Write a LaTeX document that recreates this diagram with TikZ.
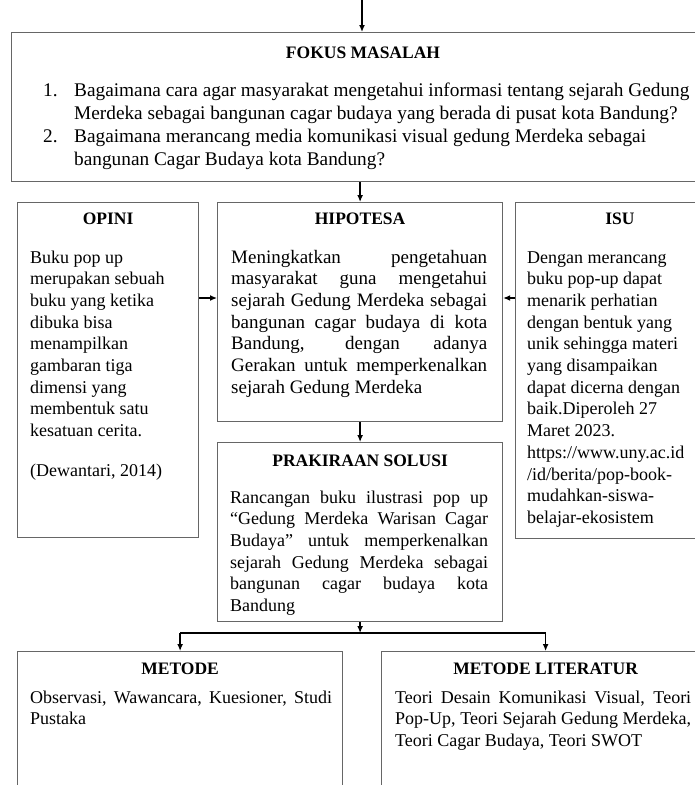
\documentclass[tikz,border=0pt]{standalone}
\usepackage{fontspec}
\setmainfont{Liberation Serif}
\usetikzlibrary{arrows.meta}
\newcommand{\jl}[1]{{\spaceskip=0pt\xspaceskip=0pt\makebox[\hsize][s]{#1}}}

\begin{document}
\begin{tikzpicture}[x=1pt,y=-1pt,
  box/.style={draw=black!60, line width=1.2pt, anchor=north west, inner sep=0pt},
  ttl/.style={anchor=base, font=\bfseries\fontsize{17.5}{21}\selectfont},
  txt/.style={anchor=base west, inner sep=0pt, align=justify, font=\fontsize{18}{21.7}\selectfont},
  qtxt/.style={txt, font=\fontsize{19.3}{23.3}\selectfont},
  arr/.style={-{Latex[length=7pt,width=6pt]}, line width=1.3pt}]
\useasboundingbox (0,0) rectangle (695,785);
\clip (0,0) rectangle (695,785);

% boxes
\node[box, minimum width=704pt, minimum height=149pt] (fokus) at (11,32) {};
\node[box, minimum width=181pt, minimum height=335pt] (opini) at (17,202) {};
\node[box, minimum width=285pt, minimum height=219pt] (hipo) at (217,202) {};
\node[box, minimum width=210pt, minimum height=336pt] (isu) at (515,202) {};
\node[box, minimum width=285pt, minimum height=179pt] (prak) at (217,442) {};
\node[box, minimum width=325pt, minimum height=200pt] (metode) at (17,651) {};
\node[box, minimum width=328pt, minimum height=200pt] (lit) at (381,651) {};

% fokus masalah
\node[ttl] (fokusT) at (363,58) {FOKUS MASALAH};
\foreach \n/\y/\q in {1/96/{Bagaimana cara agar masyarakat mengetahui informasi tentang sejarah Gedung\\
    Merdeka sebagai bangunan cagar budaya yang berada di pusat kota Bandung?},
  2/142/{Bagaimana merancang media komunikasi visual gedung Merdeka sebagai\\
    bangunan Cagar Budaya kota Bandung?}} {
  \node[qtxt] (num\n) at (43,\y) {\n.};
  \node[qtxt, text width=630pt] (q\n) at (74,\y) {\q};
}

% opini
\node[ttl] (opiniT) at (opini.north |- 0,224) {OPINI};
\node[txt, text width=165pt] (opiniB) at (30,263) {Buku pop up\\ merupakan sebuah\\
  buku yang ketika\\ dibuka bisa\\ menampilkan\\ gambaran tiga\\ dimensi yang\\
  membentuk satu\\ kesatuan cerita.};
\node[txt] (opiniR) at (30,476) {(Dewantari, 2014)};

% hipotesa
\node[ttl] (hipoT) at (hipo.north |- 0,224) {HIPOTESA};
\node[txt, font=\fontsize{19}{21.7}\selectfont, text width=256pt] (hipoB) at (231,263) {%
  \jl{Meningkatkan pengetahuan}\\ \jl{masyarakat guna mengetahui}\\
  \jl{sejarah Gedung Merdeka sebagai}\\ \jl{bangunan cagar budaya di kota}\\
  \jl{Bandung, dengan adanya}\\ \jl{Gerakan untuk memperkenalkan}\\
  sejarah Gedung Merdeka};

% isu
\node[ttl] (isuT) at (620,224) {ISU};
\node[txt, text width=175pt] (isuB) at (527,263) {Dengan merancang\\ buku pop-up dapat\\
  menarik perhatian\\ dengan bentuk yang\\ unik sehingga materi\\ yang disampaikan\\
  dapat dicerna dengan\\ baik.Diperoleh 27\\ Maret 2023.\\ https://www.uny.ac.id\\
  /id/berita/pop-book-\\ mudahkan-siswa-\\ belajar-ekosistem};

% prakiraan solusi
\node[ttl] (prakT) at (prak.north |- 0,466) {PRAKIRAAN SOLUSI};
\node[txt, text width=258pt] (prakB) at (230,503) {%
  \jl{Rancangan buku ilustrasi pop up}\\ \jl{“Gedung Merdeka Warisan Cagar}\\
  \jl{Budaya” untuk memperkenalkan}\\ \jl{sejarah Gedung Merdeka sebagai}\\
  \jl{bangunan cagar budaya kota}\\ Bandung};

% metode
\node[ttl] (metodeT) at (metode.north |- 0,674) {METODE};
\node[txt, text width=302pt] (metodeB) at (30,703) {%
  \jl{Observasi, Wawancara, Kuesioner, Studi}\\ Pustaka};
\node[ttl] (litT) at (lit.north |- 0,674) {METODE LITERATUR};
\node[txt, text width=296pt] (litB) at (395,703) {%
  \jl{Teori Desain Komunikasi Visual, Teori}\\ \jl{Pop-Up, Teori Sejarah Gedung Merdeka,}\\
  Teori Cagar Budaya, Teori SWOT};

% connectors
\coordinate (top) at (362,0);
\coordinate (mid) at (0,298);
\coordinate (fork) at (0,633);
\draw[arr] (top) -- (top |- fokus.north);
\draw[arr] (hipo.north |- fokus.south) -- (hipo.north);
\draw[arr] (opini.east |- mid) -- (hipo.west |- mid);
\draw[arr] (isu.west |- mid) -- (hipo.east |- mid);
\draw[arr] (prak.north |- hipo.south) -- (prak.north);
\draw[arr] (prak.south) -- (prak.south |- fork);
\draw[line width=2pt] (metode.north |- fork) -- (lit.north |- fork);
\draw[arr] (metode.north |- fork) -- (metode.north);
\draw[arr] (lit.north |- fork) -- (lit.north);
\end{tikzpicture}
\end{document}
